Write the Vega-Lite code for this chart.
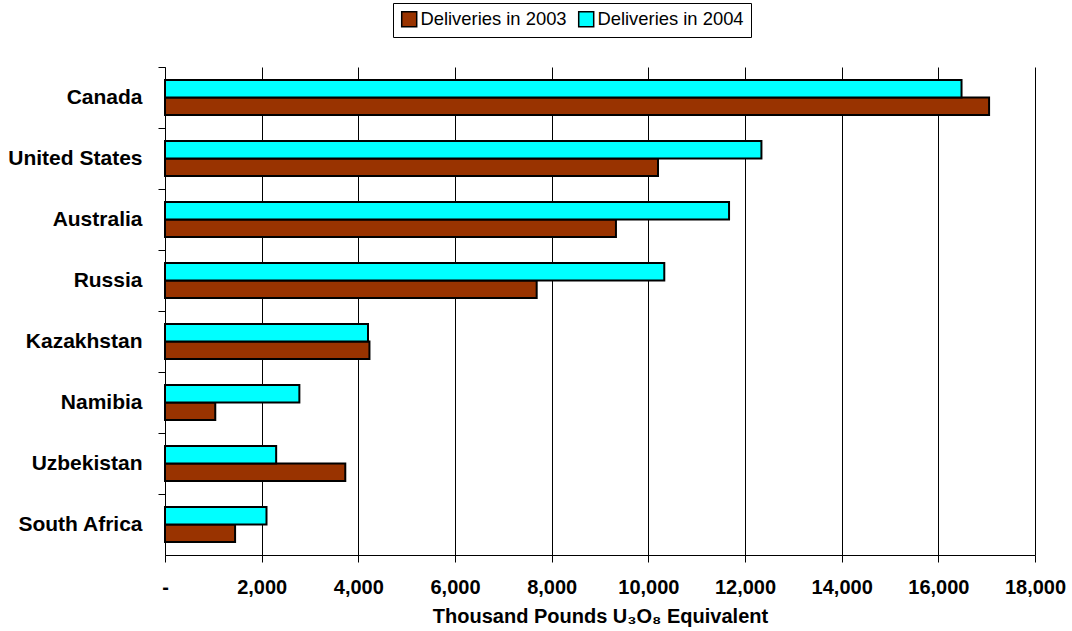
{
  "$schema": "https://vega.github.io/schema/vega-lite/v6.json",
  "autosize": {"type": "none"},
  "width": 870,
  "height": 488,
  "padding": {"left": 165, "top": 67, "right": 37, "bottom": 76},
  "background": "white",
  "config": {
    "font": "Liberation Sans",
    "view": {"stroke": null}
  },
  "data": {
    "values": [
      {"country": "Canada", "series": "Deliveries in 2003", "value": 17050},
      {"country": "Canada", "series": "Deliveries in 2004", "value": 16480},
      {"country": "United States", "series": "Deliveries in 2003", "value": 10200},
      {"country": "United States", "series": "Deliveries in 2004", "value": 12340},
      {"country": "Australia", "series": "Deliveries in 2003", "value": 9330},
      {"country": "Australia", "series": "Deliveries in 2004", "value": 11670},
      {"country": "Russia", "series": "Deliveries in 2003", "value": 7690},
      {"country": "Russia", "series": "Deliveries in 2004", "value": 10330},
      {"country": "Kazakhstan", "series": "Deliveries in 2003", "value": 4230},
      {"country": "Kazakhstan", "series": "Deliveries in 2004", "value": 4200},
      {"country": "Namibia", "series": "Deliveries in 2003", "value": 1040},
      {"country": "Namibia", "series": "Deliveries in 2004", "value": 2780},
      {"country": "Uzbekistan", "series": "Deliveries in 2003", "value": 3730},
      {"country": "Uzbekistan", "series": "Deliveries in 2004", "value": 2300},
      {"country": "South Africa", "series": "Deliveries in 2003", "value": 1450},
      {"country": "South Africa", "series": "Deliveries in 2004", "value": 2100}
    ]
  },
  "mark": {"type": "bar", "stroke": "black", "strokeWidth": 2},
  "encoding": {
    "y": {
      "field": "country",
      "type": "nominal",
      "sort": ["Canada", "United States", "Australia", "Russia", "Kazakhstan", "Namibia", "Uzbekistan", "South Africa"],
      "scale": {"paddingInner": 0, "paddingOuter": 0},
      "axis": {
        "title": null,
        "bandPosition": 0,
        "tickSize": 7,
        "tickColor": "black",
        "domainColor": "black",
        "labelFont": "Liberation Sans",
        "labelFontWeight": "bold",
        "labelFontSize": 21,
        "labelColor": "black",
        "labelPadding": 16,
        "labelOffset": 0
      }
    },
    "yOffset": {
      "field": "series",
      "type": "nominal",
      "sort": ["Deliveries in 2004", "Deliveries in 2003"],
      "scale": {"paddingInner": 0, "paddingOuter": 0.74}
    },
    "x": {
      "field": "value",
      "type": "quantitative",
      "scale": {"domain": [0, 18000], "nice": false},
      "axis": {
        "title": "Thousand Pounds U₃O₈ Equivalent",
        "titleFont": "Liberation Sans",
        "titleFontWeight": "bold",
        "titleFontSize": 20,
        "titleColor": "black",
        "titlePadding": 9,
        "values": [0, 2000, 4000, 6000, 8000, 10000, 12000, 14000, 16000, 18000],
        "labelExpr": "datum.value == 0 ? '-\u00a0\u00a0\u00a0\u00a0' : format(datum.value, ',')",
        "labelFlush": false,
        "labelOverlap": false,
        "labelFont": "Liberation Sans",
        "labelFontWeight": "bold",
        "labelFontSize": 20,
        "labelColor": "black",
        "labelPadding": 15,
        "tickSize": 7,
        "tickColor": "black",
        "domainColor": "black",
        "grid": true,
        "gridColor": "black",
        "gridWidth": 1
      }
    },
    "color": {
      "field": "series",
      "type": "nominal",
      "scale": {"domain": ["Deliveries in 2003", "Deliveries in 2004"], "range": ["#993300", "#00FFFF"]},
      "legend": {
        "title": null,
        "orient": "none",
        "direction": "horizontal",
        "legendX": 228,
        "legendY": -64,
        "strokeColor": "black",
        "fillColor": "white",
        "padding": 7,
        "symbolType": "square",
        "symbolSize": 225,
        "symbolStrokeColor": "black",
        "symbolStrokeWidth": 1.5,
        "symbolOpacity": 1,
        "labelFont": "Liberation Sans",
        "labelFontSize": 18.4,
        "labelLimit": 400,
        "labelColor": "black",
        "labelOffset": 2,
        "columnPadding": 8
      }
    }
  }
}
